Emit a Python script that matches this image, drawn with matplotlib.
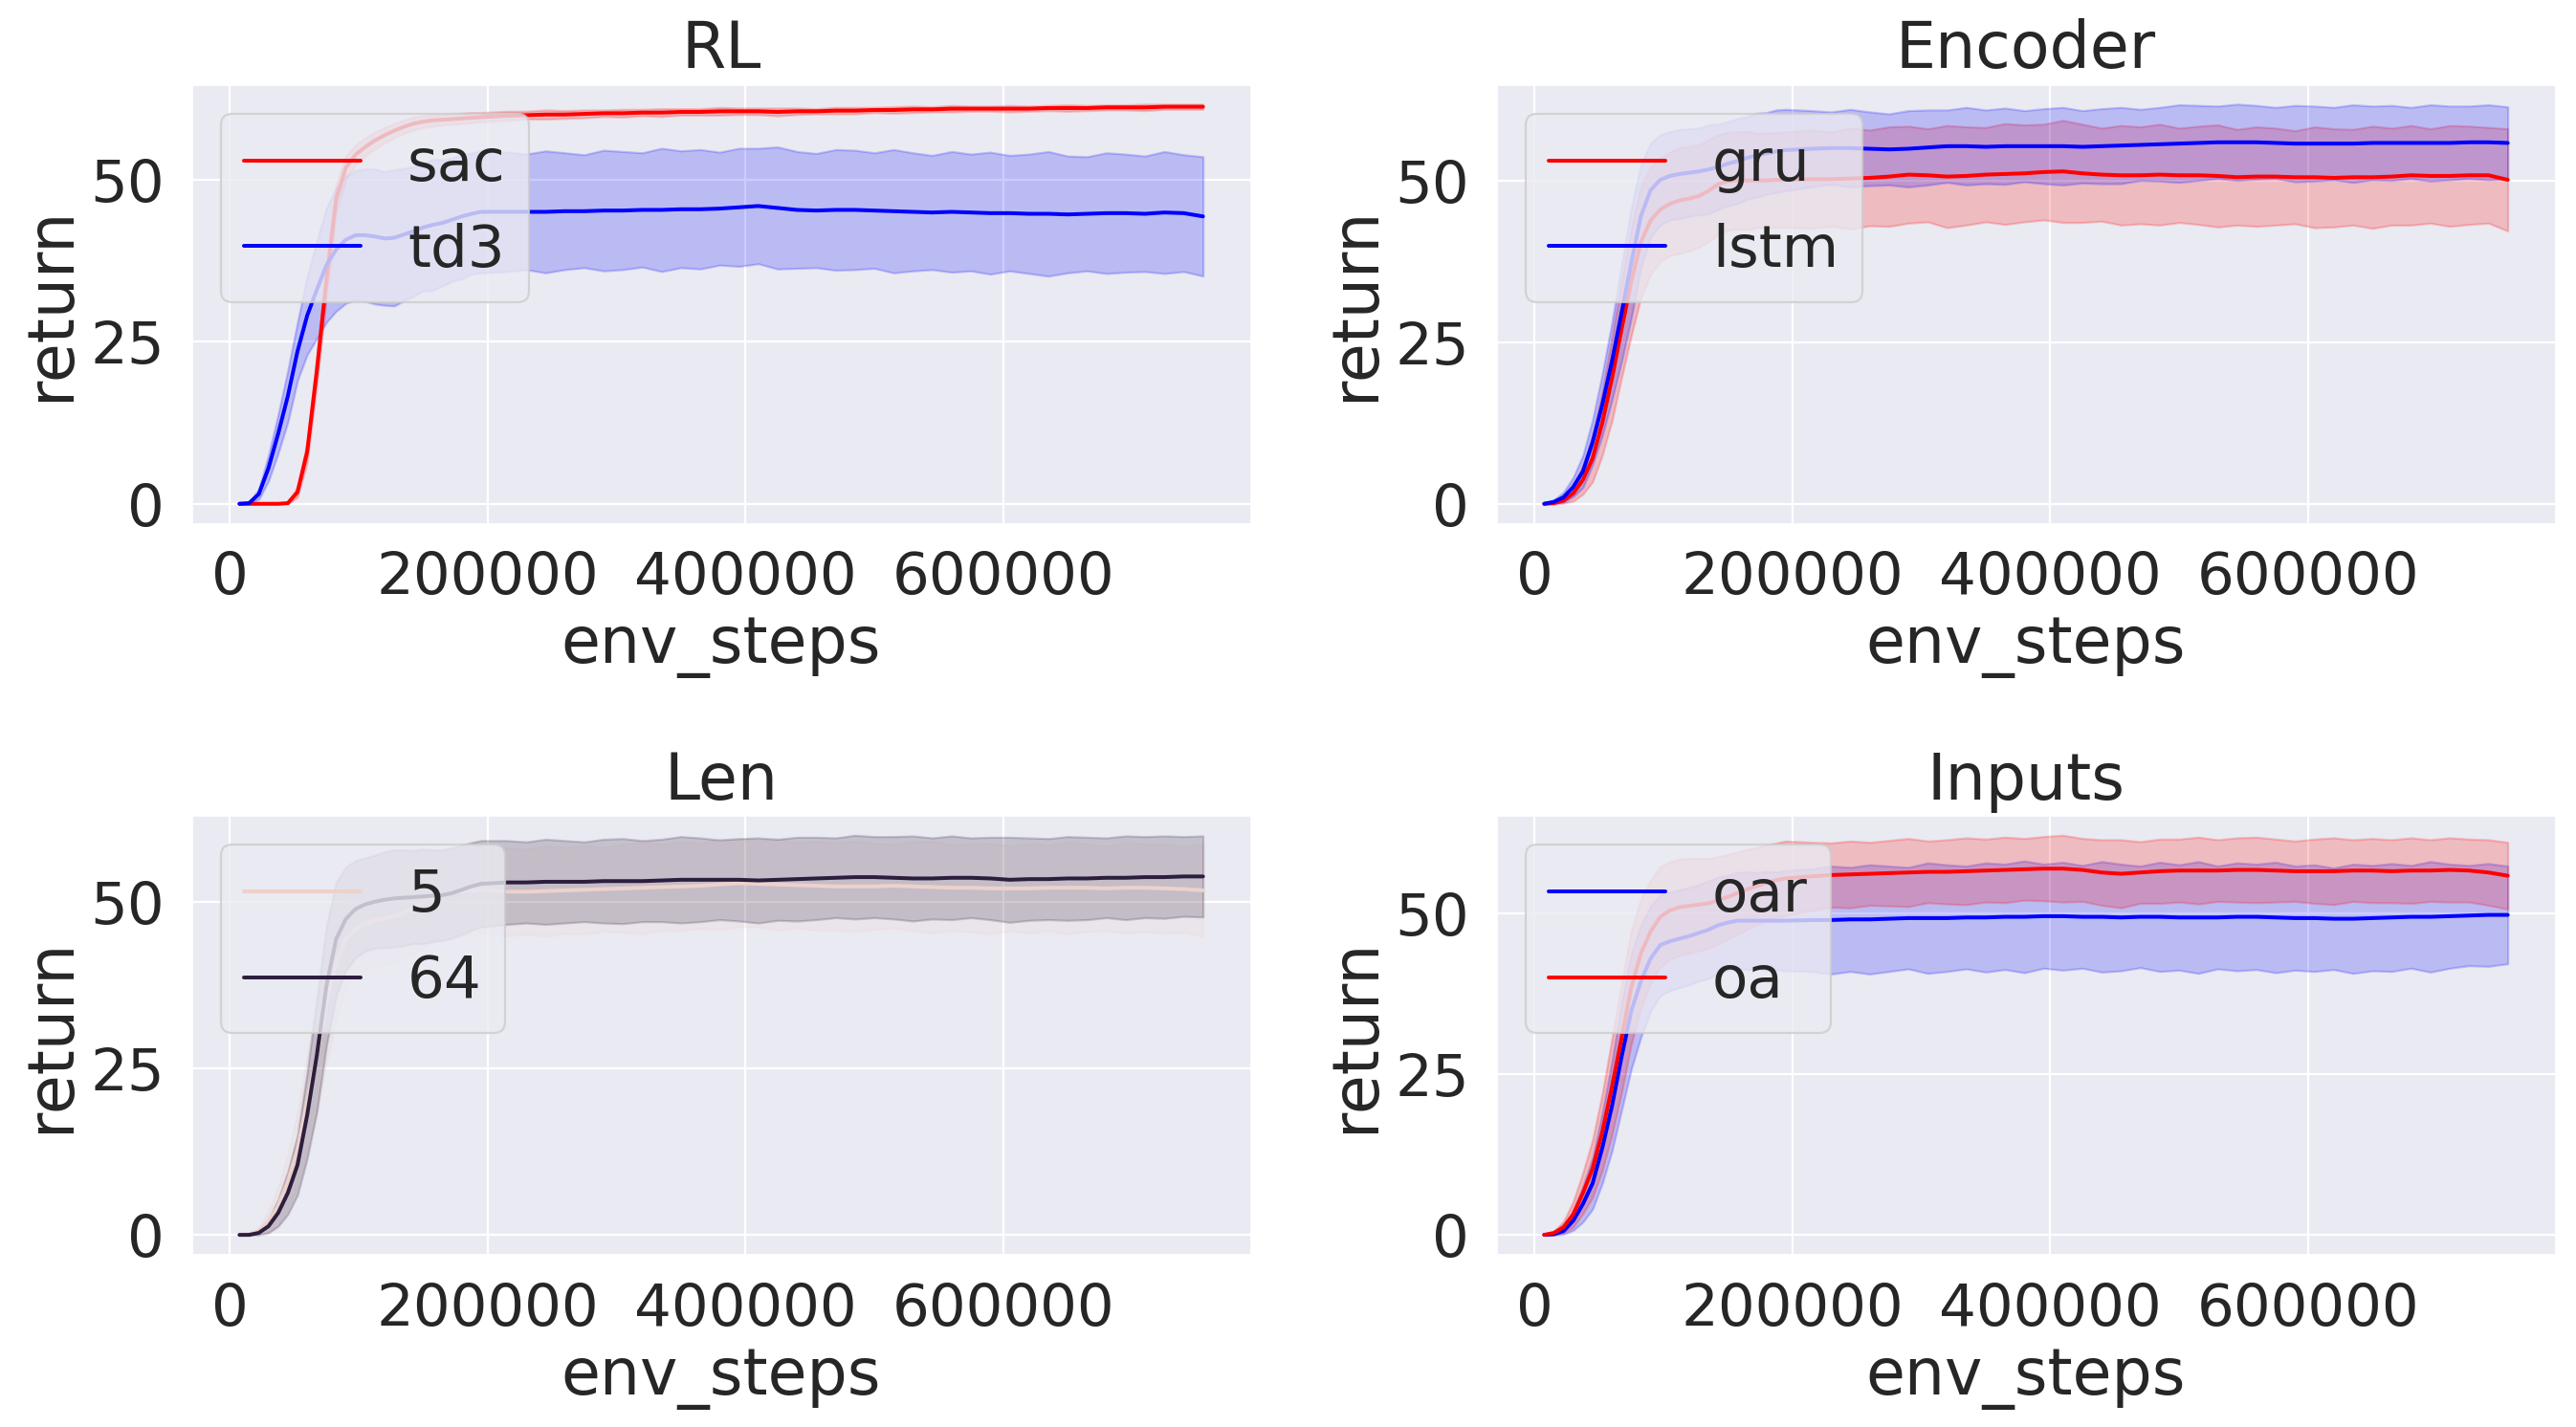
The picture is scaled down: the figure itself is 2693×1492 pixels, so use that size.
import matplotlib
matplotlib.use("Agg")
import matplotlib.pyplot as plt
import numpy as np
import seaborn as sns

sns.set_theme(style="darkgrid", font_scale=2.5)
plt.rcParams["font.family"] = ["DejaVu Sans"]
plt.rcParams["xtick.major.pad"] = 6.5
plt.rcParams["ytick.major.pad"] = 6.5
plt.rcParams["axes.titlepad"] = 7.5

# ----------------------------------------------------------------------
# env_steps: finer sampling during the early rise, coarser on the plateau
steps = np.concatenate([np.arange(7500, 195001, 7500), np.arange(215000, 755001, 15000)])

# RL
sac_mean = [0.0, 0.0, 0.0, 0.0, 0.0, 0.1, 1.8, 8.0, 20.5, 34.5, 47.0, 51.8, 53.8,
            55.0, 56.0, 56.8, 57.5, 58.1, 58.6, 58.9, 59.1, 59.2, 59.3, 59.4, 59.5, 59.6,
            59.8, 59.9, 60.0, 60.0, 60.1, 60.2, 60.2, 60.3, 60.3, 60.4,
            60.4, 60.5, 60.5, 60.5, 60.4, 60.5, 60.5, 60.6, 60.6, 60.7,
            60.7, 60.8, 60.8, 60.9, 60.9, 60.9, 60.9, 60.9, 61.0, 61.0,
            61.0, 61.1, 61.1, 61.1, 61.2, 61.2, 61.2]
sac_sd = [0.0, 0.0, 0.0, 0.0, 0.0, 0.1, 0.8, 1.6, 2.2, 2.5, 2.2, 1.8, 1.5,
          1.4, 1.3, 1.2, 1.1, 1.0, 1.0, 0.9, 0.9, 0.8, 0.8, 0.8, 0.8, 0.7,
          0.7, 0.6, 0.7, 0.6, 0.6, 0.5, 0.6, 0.5, 0.6, 0.5,
          0.5, 0.6, 0.5, 0.5, 0.6, 0.5, 0.4, 0.5, 0.5, 0.4,
          0.5, 0.5, 0.4, 0.5, 0.4, 0.4, 0.5, 0.4, 0.4, 0.5,
          0.4, 0.4, 0.4, 0.5, 0.4, 0.4, 0.4]
td3_mean = [0.0, 0.1, 1.5, 5.5, 10.8, 16.6, 23.5, 29.0, 33.0, 36.8, 39.2, 40.7, 41.4,
            41.4, 41.2, 40.9, 41.0, 41.5, 42.0, 42.6, 43.0, 43.3, 43.8, 44.3, 44.7, 45.0,
            45.0, 45.0, 45.0, 45.1, 45.1, 45.2, 45.2, 45.3, 45.3, 45.4,
            45.4, 45.5, 45.7, 45.9, 45.6, 45.3, 45.2, 45.3, 45.3, 45.2,
            45.1, 45.0, 44.9, 45.0, 44.9, 44.8, 44.8, 44.7, 44.7, 44.6,
            44.7, 44.8, 44.8, 44.7, 44.9, 44.8, 44.3]
td3_sd = [0.0, 0.1, 0.8, 2.0, 3.0, 4.0, 4.5, 6.0, 7.5, 8.8, 9.5, 9.8, 10.0,
          10.2, 10.4, 10.3, 10.5, 10.2, 10.0, 9.8, 10.1, 9.7, 9.5, 9.6, 9.3, 9.4,
          9.2, 8.9, 9.4, 9.0, 8.7, 9.3, 9.1, 8.8, 9.5, 9.0,
          9.2, 8.7, 9.1, 8.9, 9.4, 9.0, 8.8, 9.3, 9.2, 8.9,
          9.5, 9.1, 8.8, 9.3, 9.0, 9.4, 8.9, 9.2, 9.6, 9.0,
          8.8, 9.3, 9.1, 8.9, 9.4, 9.0, 9.2]

# Encoder
gru_mean = [0.0, 0.1, 0.5, 1.6, 3.7, 7.0, 12.5, 19.3, 27.0, 34.3, 40.5, 43.8, 45.5,
            46.4, 46.9, 47.2, 47.6, 48.4, 49.4, 49.9, 50.0, 50.0, 50.0, 50.0, 50.1, 50.1,
            50.2, 50.2, 50.3, 50.4, 50.6, 50.9, 50.8, 50.6, 50.7, 50.9,
            51.0, 51.1, 51.3, 51.4, 51.1, 50.9, 50.8, 50.8, 50.9, 50.8,
            50.8, 50.7, 50.5, 50.6, 50.6, 50.5, 50.5, 50.4, 50.5, 50.5,
            50.6, 50.8, 50.7, 50.7, 50.8, 50.8, 50.1]
gru_sd = [0.0, 0.1, 0.4, 1.2, 2.2, 3.6, 5.0, 6.5, 7.5, 8.3, 8.6, 8.3, 8.0,
          8.0, 8.2, 8.1, 7.9, 7.9, 7.7, 7.6, 7.5, 7.6, 7.3, 7.4, 7.3, 7.4,
          7.6, 7.3, 7.8, 7.4, 7.7, 7.5, 7.2, 7.9, 7.6, 7.3,
          7.8, 7.5, 7.4, 7.9, 7.6, 7.2, 7.7, 7.5, 7.8, 7.3,
          7.6, 7.9, 7.4, 7.7, 7.5, 7.2, 7.8, 7.6, 7.4, 7.9,
          7.5, 7.7, 7.3, 7.8, 7.6, 7.4, 7.9]
lstm_mean = [0.0, 0.3, 1.0, 2.6, 5.0, 9.5, 15.3, 22.0, 29.5, 37.2, 44.5, 48.5, 50.1,
             50.7, 51.0, 51.2, 51.4, 51.7, 52.1, 52.6, 53.0, 53.5, 53.9, 54.2, 54.5, 54.7,
             54.9, 55.0, 55.0, 54.9, 54.8, 54.9, 55.1, 55.3, 55.3, 55.2,
             55.3, 55.3, 55.3, 55.3, 55.2, 55.3, 55.4, 55.5, 55.6, 55.7,
             55.8, 55.9, 55.9, 55.9, 55.8, 55.7, 55.7, 55.7, 55.7, 55.8,
             55.8, 55.8, 55.8, 55.8, 55.9, 55.9, 55.8]
lstm_sd = [0.0, 0.3, 0.8, 1.5, 2.5, 3.5, 4.8, 6.0, 7.5, 8.5, 8.0, 7.3, 7.0,
           6.8, 6.9, 6.8, 6.7, 6.9, 6.6, 6.5, 6.6, 6.4, 6.5, 6.3, 6.4, 6.3,
           5.9, 5.6, 6.0, 5.7, 5.5, 5.9, 5.8, 5.6, 6.0, 5.7,
           5.9, 5.5, 5.8, 6.0, 5.6, 5.8, 5.9, 5.5, 5.7, 6.0,
           5.8, 5.6, 5.9, 5.7, 5.5, 5.9, 5.8, 5.6, 6.0, 5.7,
           5.8, 5.5, 5.9, 5.7, 5.6, 5.8, 5.6]

# Len
len5_mean = [0.0, 0.1, 0.6, 2.0, 4.3, 8.0, 12.8, 20.0, 27.0, 35.0, 41.0, 44.5, 46.0,
             46.8, 47.3, 47.6, 47.9, 48.4, 49.2, 50.0, 50.7, 51.2, 51.5, 51.7, 51.8, 51.9,
             51.6, 51.6, 51.7, 51.8, 51.9, 52.0, 52.1, 52.2, 52.3, 52.4,
             52.5, 52.7, 52.9, 52.8, 52.7, 52.6, 52.5, 52.4, 52.4, 52.4,
             52.5, 52.4, 52.3, 52.2, 52.2, 52.1, 52.1, 52.1, 52.2, 52.2,
             52.2, 52.1, 52.2, 52.2, 52.1, 52.0, 51.8]
len5_sd = [0.0, 0.1, 0.5, 1.5, 2.8, 4.0, 5.5, 7.0, 8.5, 9.0, 8.5, 7.5, 7.0,
           6.8, 6.8, 6.9, 7.0, 6.8, 6.9, 6.8, 6.7, 6.8, 6.6, 6.7, 6.6, 6.5,
           6.6, 6.4, 6.8, 6.5, 6.7, 6.3, 6.6, 6.9, 6.5, 6.7,
           6.4, 6.8, 6.6, 6.5, 6.9, 6.4, 6.7, 6.6, 6.8, 6.5,
           6.3, 6.7, 6.9, 6.5, 6.6, 6.8, 6.4, 6.7, 6.5, 6.9,
           6.6, 6.4, 6.8, 6.6, 6.7, 6.5, 6.9]
len64_mean = [0.0, 0.0, 0.3, 1.3, 3.3, 6.3, 10.5, 18.0, 27.0, 37.5, 44.5, 47.5, 49.0,
              49.7, 50.1, 50.4, 50.6, 50.7, 50.8, 50.9, 51.0, 51.1, 51.4, 51.9, 52.4, 52.8,
              53.0, 53.0, 53.1, 53.1, 53.1, 53.2, 53.2, 53.2, 53.3, 53.4,
              53.4, 53.4, 53.4, 53.3, 53.4, 53.5, 53.6, 53.7, 53.8, 53.8,
              53.7, 53.6, 53.6, 53.7, 53.7, 53.6, 53.4, 53.5, 53.5, 53.6,
              53.6, 53.7, 53.7, 53.8, 53.8, 53.9, 53.9]
len64_sd = [0.0, 0.0, 0.3, 1.0, 2.0, 3.2, 4.5, 6.5, 8.5, 9.0, 8.5, 7.8, 7.3,
            7.0, 7.0, 7.2, 7.3, 7.2, 7.0, 7.1, 6.9, 6.8, 6.8, 6.7, 6.6, 6.5,
            6.3, 6.1, 6.4, 6.2, 6.0, 6.3, 6.4, 6.1, 6.2, 6.5,
            6.3, 6.0, 6.2, 6.4, 6.1, 6.3, 6.2, 6.0, 6.3, 6.1,
            6.2, 6.4, 6.1, 6.3, 6.0, 6.2, 6.4, 6.2, 6.1, 6.3,
            6.2, 6.0, 6.3, 6.1, 6.2, 6.0, 6.1]

# Inputs
oar_mean = [0.0, 0.1, 0.6, 2.2, 4.8, 8.0, 13.5, 20.0, 27.7, 34.8, 39.5, 43.0, 45.1,
            45.7, 46.1, 46.5, 47.0, 47.5, 48.2, 48.6, 48.9, 48.9, 48.9, 48.9, 48.9, 48.9,
            49.0, 49.0, 49.1, 49.1, 49.2, 49.3, 49.3, 49.3, 49.4, 49.4,
            49.5, 49.5, 49.6, 49.6, 49.5, 49.5, 49.4, 49.5, 49.5, 49.4,
            49.4, 49.4, 49.5, 49.5, 49.4, 49.3, 49.3, 49.2, 49.2, 49.3,
            49.4, 49.5, 49.5, 49.6, 49.7, 49.8, 49.8]
oar_sd = [0.0, 0.1, 0.5, 1.5, 2.8, 4.0, 5.5, 7.0, 8.3, 9.0, 8.7, 8.2, 7.9,
          7.7, 7.6, 7.6, 7.5, 7.6, 7.5, 7.4, 7.5, 7.6, 7.5, 7.7, 7.6, 7.8,
          8.0, 8.4, 8.1, 8.5, 8.2, 7.9, 8.6, 8.3, 8.0, 8.5,
          8.2, 8.7, 8.1, 8.4, 8.0, 8.6, 8.3, 7.9, 8.5, 8.2,
          8.7, 8.0, 8.4, 8.2, 8.6, 8.1, 8.3, 7.9, 8.5, 8.2,
          8.4, 8.0, 8.6, 8.1, 7.8, 8.0, 7.6]
oa_mean = [0.0, 0.3, 1.2, 3.2, 6.5, 10.3, 16.0, 23.0, 30.6, 38.5, 43.8, 47.2, 49.5,
           50.5, 51.0, 51.2, 51.4, 51.6, 52.1, 52.6, 53.2, 53.8, 54.3, 54.8, 55.2, 55.5,
           55.8, 56.0, 56.1, 56.2, 56.3, 56.4, 56.5, 56.5, 56.6, 56.7,
           56.8, 56.9, 57.0, 57.0, 56.8, 56.4, 56.2, 56.4, 56.6, 56.7,
           56.7, 56.7, 56.8, 56.8, 56.7, 56.6, 56.6, 56.6, 56.7, 56.7,
           56.6, 56.7, 56.7, 56.8, 56.7, 56.4, 55.9]
oa_sd = [0.0, 0.3, 0.9, 2.0, 3.2, 4.5, 6.0, 7.5, 8.5, 8.8, 8.5, 8.0, 7.8,
         7.6, 7.5, 7.4, 7.2, 7.0, 6.8, 6.6, 6.4, 6.2, 6.0, 5.9, 5.8, 5.8,
         5.3, 5.0, 5.2, 4.9, 5.1, 5.3, 4.8, 5.0, 5.2, 4.9,
         5.1, 4.8, 5.0, 5.2, 4.9, 5.1, 5.3, 4.8, 5.0, 4.9,
         5.2, 4.8, 5.0, 5.1, 4.9, 4.7, 5.0, 5.2, 4.8, 5.0,
         4.9, 5.1, 4.8, 5.0, 4.9, 5.1, 5.2]

len_colors = sns.cubehelix_palette(2)

panels = [
    ("RL", [("sac", "red", sac_mean, sac_sd), ("td3", "blue", td3_mean, td3_sd)]),
    ("Encoder", [("gru", "red", gru_mean, gru_sd), ("lstm", "blue", lstm_mean, lstm_sd)]),
    ("Len", [("5", len_colors[0], len5_mean, len5_sd), ("64", len_colors[1], len64_mean, len64_sd)]),
    ("Inputs", [("oar", "blue", oar_mean, oar_sd), ("oa", "red", oa_mean, oa_sd)]),
]

# ----------------------------------------------------------------------

W, H, DPI = 2693, 1492, 160
fig, axes = plt.subplots(2, 2, figsize=(W / DPI, H / DPI), dpi=DPI)
fig.subplots_adjust(left=200 / W, right=2672 / W, bottom=1 - 1312 / H, top=1 - 88 / H,
                    wspace=256 / 1108, hspace=305 / 460)

for ax, (title, series) in zip(axes.flat, panels):
    for label, color, mean, sd in series:
        mean = np.array(mean)
        sd = np.array(sd)
        ax.plot(steps, mean, color=color, label=label, lw=1.8)
        ax.fill_between(steps, mean - sd, mean + sd, color=color, alpha=0.2)
    ax.set_title(title)
    ax.set_xlabel("env_steps")
    ax.set_ylabel("return")
    ax.set_yticks([0, 25, 50])
    ax.legend(loc="upper left")

fig.savefig("out.png", dpi=DPI)
